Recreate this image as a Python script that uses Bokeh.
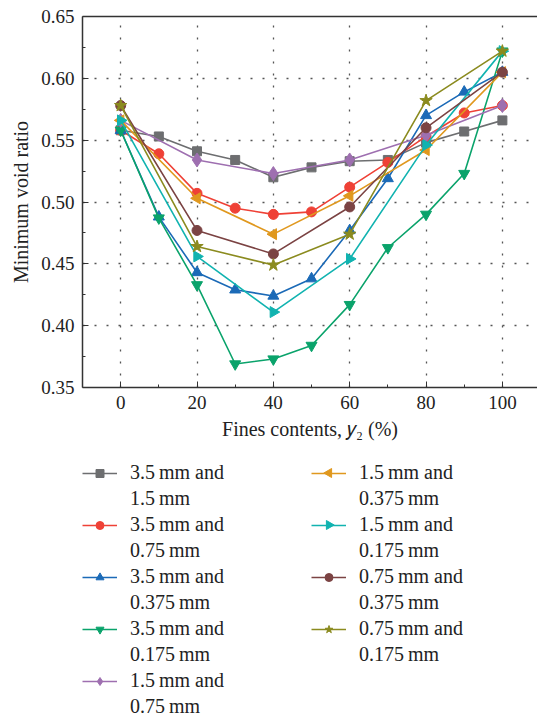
import numpy as np
from bokeh.plotting import figure
from bokeh.layouts import column
from bokeh.models import (Legend, LegendItem, LinearAxis, Range1d, FixedTicker,
                          CustomJSTickFormatter)
from bokeh.embed import file_html
from bokeh.resources import INLINE

# ---- data ----
x_full = [0, 10, 20, 30, 40, 50, 60, 70, 80, 90, 100]
x_half = [0, 20, 40, 60, 80, 100]

s_35_15 = [0.558, 0.553, 0.541, 0.534, 0.520, 0.528, 0.533, 0.534, 0.548, 0.557, 0.566]
s_35_075 = [0.558, 0.539, 0.507, 0.495, 0.490, 0.492, 0.512, 0.532, 0.553, 0.572, 0.578]
s_35_0375 = [0.558, 0.488, 0.443, 0.429, 0.424, 0.438, 0.477, 0.519, 0.570, 0.589, 0.605]
s_35_0175 = [0.558, 0.487, 0.433, 0.369, 0.373, 0.384, 0.417, 0.463, 0.490, 0.523, 0.622]
s_15_075 = [0.566, 0.534, 0.523, 0.534, 0.554, 0.578]
s_15_0375 = [0.566, 0.503, 0.474, 0.505, 0.542, 0.605]
s_15_0175 = [0.566, 0.456, 0.411, 0.454, 0.546, 0.622]
s_075_0375 = [0.578, 0.477, 0.458, 0.496, 0.560, 0.605]
s_075_0175 = [0.578, 0.464, 0.449, 0.474, 0.582, 0.622]

label_line1 = ["3.5\u2009mm and", "3.5\u2009mm and", "3.5\u2009mm and", "3.5\u2009mm and",
               "1.5\u2009mm and", "1.5\u2009mm and", "1.5\u2009mm and",
               "0.75\u2009mm and", "0.75\u2009mm and"]
label_line2 = ["1.5\u2009mm", "0.75\u2009mm", "0.375\u2009mm", "0.175\u2009mm",
               "0.75\u2009mm", "0.375\u2009mm", "0.175\u2009mm",
               "0.375\u2009mm", "0.175\u2009mm"]

x_ticks = [0, 20, 40, 60, 80, 100]
y_ticks = [0.35, 0.40, 0.45, 0.50, 0.55, 0.60, 0.65]

series = [
    (x_full, s_35_15, "#6d6e70", "square", 9, 0),
    (x_full, s_35_075, "#ef4136", "circle", 10, 0),
    (x_full, s_35_0375, "#1b6ab7", "triangle", 11, 0),
    (x_full, s_35_0175, "#0aa36b", "inverted_triangle", 11, 0),
    (x_half, s_15_075, "#9e6fb0", "diamond", 14, 0),
    (x_half, s_15_0375, "#e0981e", "triangle", 11, np.pi / 2),
    (x_half, s_15_0175, "#11b3b0", "triangle", 11, -np.pi / 2),
    (x_half, s_075_0375, "#7b4343", "circle", 10, 0),
    (x_half, s_075_0175, "#8b8b1f", "star", 13, 0),
]

FONT = "Liberation Serif"
TXT = "#222222"
W, H = 537, 723
MAIN_H = 445
FRAME_LEFT = 82

p = figure(width=W, height=MAIN_H, output_backend="svg", toolbar_location=None,
           x_range=Range1d(-10, 109.2), y_range=Range1d(0.35, 0.65),
           min_border_left=FRAME_LEFT, min_border_right=0, min_border_top=16,
           min_border_bottom=MAIN_H - 387,
           x_axis_label="Fines contents, \U0001D466\u2082 (%)",
           y_axis_label="Minimum void ratio")
p.outline_line_color = None

for ax in (p.xaxis[0], p.yaxis[0]):
    ax.axis_line_color = "#333333"
    ax.axis_line_width = 1.5
    ax.major_tick_in = 6
    ax.major_tick_out = 0
    ax.minor_tick_in = 3
    ax.minor_tick_out = 0
    ax.major_tick_line_color = "#333333"
    ax.minor_tick_line_color = "#333333"
    ax.major_label_text_font = FONT
    ax.major_label_text_font_size = "19px"
    ax.major_label_text_color = TXT
    ax.axis_label_text_font = FONT
    ax.axis_label_text_font_size = "20px"
    ax.axis_label_text_font_style = "normal"
    ax.axis_label_text_color = TXT

p.xaxis.ticker = FixedTicker(ticks=x_ticks, minor_ticks=[10, 30, 50, 70, 90])
p.yaxis.ticker = FixedTicker(ticks=y_ticks,
                             minor_ticks=[0.375, 0.425, 0.475, 0.525, 0.575, 0.625])
p.yaxis.formatter = CustomJSTickFormatter(code="return tick.toFixed(2);")
p.xaxis.major_label_standoff = 8
p.yaxis.major_label_standoff = 8
p.xaxis.axis_label_standoff = 6
p.yaxis.axis_label_standoff = 6

top = LinearAxis(ticker=FixedTicker(ticks=[]), major_label_text_font_size="0px",
                 major_tick_in=0, major_tick_out=0, minor_tick_in=0, minor_tick_out=0,
                 axis_line_color="#333333", axis_line_width=1.5)
p.add_layout(top, "above")

p.xgrid.ticker = FixedTicker(ticks=x_ticks)
p.ygrid.ticker = FixedTicker(ticks=[0.40, 0.45, 0.50, 0.55, 0.60])
for g in (p.xgrid[0], p.ygrid[0]):
    g.grid_line_color = "#555555"
    g.grid_line_dash = "2 10"
    g.grid_line_width = 1.3

# ---- legend panel below the chart (screen-pixel coordinates) ----
LEG_TOP = 16
GLYPH_W, GLYPH_H, STANDOFF, LABEL_W, SPACING = 35, 20, 13, 178, 3
ROW_H = 23  # height of one 20px label row
NROWS = 10
leg_h = H - MAIN_H
q = figure(width=W, height=leg_h, output_backend="svg", toolbar_location=None,
           x_axis_type=None, y_axis_type=None, min_border_left=FRAME_LEFT,
           min_border_right=0, min_border_top=LEG_TOP, min_border_bottom=0,
           x_range=Range1d(FRAME_LEFT, W), y_range=Range1d(leg_h, LEG_TOP))
q.outline_line_color = None
q.grid.visible = False

col_w = GLYPH_W + STANDOFF + LABEL_W + SPACING
items = []
for i, ((xs, ys, col, mk, sz, ang), l1, l2) in enumerate(zip(series, label_line1,
                                                             label_line2)):
    p.line(xs, ys, line_color=col, line_width=1.6)
    p.scatter(xs, ys, marker=mk, size=sz, angle=ang, fill_color=col, line_color=col)
    lr = q.line([-50, -40], [-50, -50], line_color=col, line_width=1.6)
    rends = [lr]
    if ang == 0:
        sr = q.scatter([-50], [-50], marker=mk, size=8, fill_color=col, line_color=col)
        rends.append(sr)
    else:
        # legend glyphs ignore marker rotation: place the rotated sample marker
        row = (2 * i) % NROWS
        colno = (2 * i) // NROWS
        gx = FRAME_LEFT + colno * col_w + GLYPH_W / 2
        gy = LEG_TOP + row * (ROW_H + SPACING) + ROW_H / 2
        q.scatter([gx], [gy], marker=mk, size=9, angle=ang, fill_color=col,
                  line_color=col)
    items.append(LegendItem(label=l1, renderers=rends))
    items.append(LegendItem(label=l2, renderers=[]))

legend = Legend(items=items, location="top_left", orientation="vertical", nrows=NROWS,
                glyph_width=GLYPH_W, glyph_height=GLYPH_H, label_standoff=STANDOFF,
                label_width=LABEL_W, spacing=SPACING, padding=0, margin=0,
                border_line_color=None, background_fill_alpha=0, label_text_font=FONT,
                label_text_font_size="20px", label_text_color=TXT)
q.add_layout(legend, "center")

open("out.html", "w").write(file_html(column(p, q, spacing=0), INLINE))
